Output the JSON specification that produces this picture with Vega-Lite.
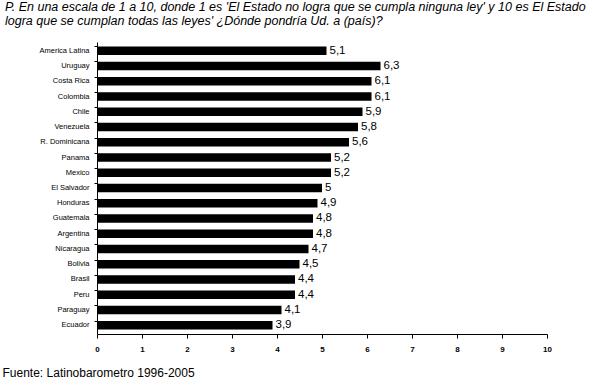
{
  "$schema": "https://vega.github.io/schema/vega-lite/v6.json",
  "width": 450,
  "height": 292,
  "autosize": {"type": "none"},
  "padding": {"left": 97, "top": 42, "right": 68, "bottom": 54},
  "background": "white",
  "config": {
    "view": {"stroke": null},
    "font": "Liberation Sans",
    "locale": {"number": {"decimal": ",", "thousands": ".", "grouping": [3], "currency": ["", ""]}}
  },
  "title": {
    "text": ["P. En una escala de 1 a 10, donde 1 es 'El Estado no logra que se cumpla ninguna ley' y 10 es  El Estado", "logra que se cumplan todas las leyes' ¿Dónde pondría Ud. a (país)?"],
    "anchor": "start",
    "frame": "group",
    "dx": -92,
    "dy": -2,
    "offset": 0,
    "fontSize": 12.5,
    "fontStyle": "italic",
    "fontWeight": "normal",
    "color": "black",
    "lineHeight": 13.5,
    "baseline": "bottom",
    "limit": 0
  },
  "data": {
    "values": [
      {"pais": "America Latina", "valor": 5.1},
      {"pais": "Uruguay", "valor": 6.3},
      {"pais": "Costa Rica", "valor": 6.1},
      {"pais": "Colombia", "valor": 6.1},
      {"pais": "Chile", "valor": 5.9},
      {"pais": "Venezuela", "valor": 5.8},
      {"pais": "R. Dominicana", "valor": 5.6},
      {"pais": "Panama", "valor": 5.2},
      {"pais": "Mexico", "valor": 5.2},
      {"pais": "El Salvador", "valor": 5.0},
      {"pais": "Honduras", "valor": 4.9},
      {"pais": "Guatemala", "valor": 4.8},
      {"pais": "Argentina", "valor": 4.8},
      {"pais": "Nicaragua", "valor": 4.7},
      {"pais": "Bolivia", "valor": 4.5},
      {"pais": "Brasil", "valor": 4.4},
      {"pais": "Peru", "valor": 4.4},
      {"pais": "Paraguay", "valor": 4.1},
      {"pais": "Ecuador", "valor": 3.9}
    ]
  },
  "encoding": {
    "y": {
      "field": "pais",
      "type": "nominal",
      "sort": null,
      "scale": {"paddingInner": 0.45, "paddingOuter": 0.3},
      "axis": {
        "title": null,
        "labelFontSize": 7.5,
        "labelColor": "black",
        "labelPadding": 5,
        "tickSize": 3,
        "tickColor": "black",
        "domainColor": "black",
        "bandPosition": 0
      }
    },
    "x": {
      "field": "valor",
      "type": "quantitative",
      "scale": {"domain": [0, 10], "nice": false},
      "axis": {
        "title": "Fuente: Latinobarometro 1996-2005",
        "titleAnchor": "start",
        "titleAlign": "left",
        "titleX": -95,
        "titleY": 33,
        "titleFontSize": 12,
        "titleFontWeight": "normal",
        "titleColor": "black",
        "values": [0, 1, 2, 3, 4, 5, 6, 7, 8, 9, 10],
        "grid": false,
        "labelFontSize": 8,
        "labelFontWeight": "bold",
        "labelColor": "black",
        "labelPadding": 7,
        "tickSize": 4,
        "tickColor": "black",
        "domainColor": "black",
        "labelFlush": false
      }
    }
  },
  "layer": [
    {"mark": {"type": "bar", "color": "black"}},
    {
      "mark": {"type": "text", "align": "left", "baseline": "middle", "dx": 3, "fontSize": 11.5, "color": "black"},
      "encoding": {"text": {"field": "valor", "type": "quantitative", "format": ".2~r"}}
    }
  ]
}
